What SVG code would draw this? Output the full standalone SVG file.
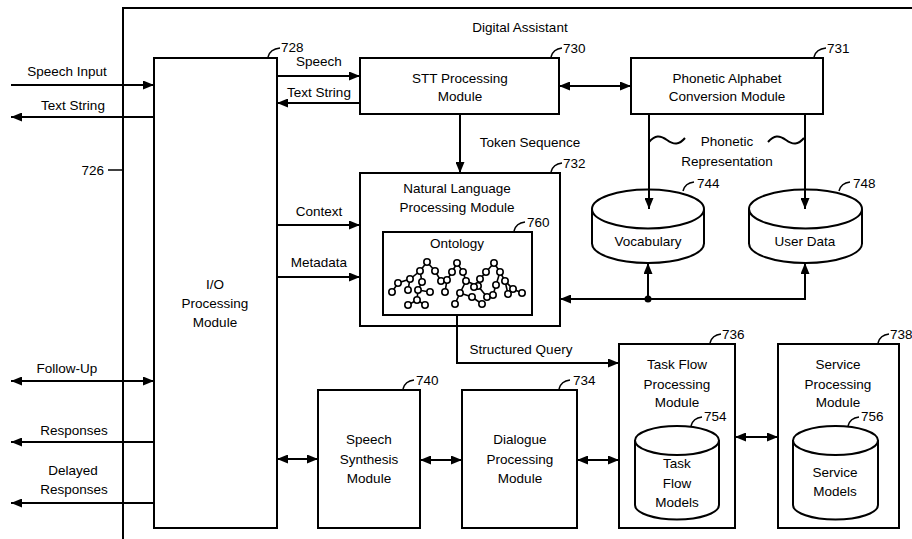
<svg xmlns="http://www.w3.org/2000/svg" width="912" height="539" viewBox="0 0 912 539">
<style>
text{font-family:"Liberation Sans",Arial,sans-serif;font-size:13.5px;fill:#000;text-anchor:middle}
.l{text-anchor:start}
.r{text-anchor:end}
.box{fill:#fff;stroke:#000;stroke-width:2}
.ln{fill:none;stroke:#000;stroke-width:2}
.tk{fill:none;stroke:#000;stroke-width:1.5}
.nd{fill:#fff;stroke:#000;stroke-width:1.6}
.ed{fill:none;stroke:#000;stroke-width:1.6}
</style>
<defs>
<marker id="ah" markerUnits="userSpaceOnUse" markerWidth="11" markerHeight="9" refX="11" refY="4.5" orient="auto-start-reverse"><path d="M0,0 L11,4.5 L0,9 z" fill="#000"/></marker>
<marker id="dot" markerUnits="userSpaceOnUse" markerWidth="8" markerHeight="8" refX="4" refY="4"><circle cx="4" cy="4" r="3.5" fill="#000"/></marker>
</defs>
<rect width="912" height="539" fill="#fff"/>
<g id="frame">
<path class="ln" d="M123,539 V8 H912" stroke-width="2.5"/>
<text x="520" y="32">Digital Assistant</text>
<text class="r" x="104" y="175">726</text>
<path class="tk" d="M108,170 H123"/>
</g>
<g id="io">
<rect class="box" x="154" y="58" width="123" height="470"/>
<text x="215" y="289">I/O</text>
<text x="215" y="308">Processing</text>
<text x="215" y="327">Module</text>
<path class="tk" d="M268,57 q2,-8 12,-9"/>
<text class="l" x="281" y="52">728</text>
</g>
<g id="stt">
<rect class="box" x="360" y="58" width="199" height="56"/>
<text x="460" y="83">STT Processing</text>
<text x="460" y="101">Module</text>
<path class="tk" d="M551,57 q2,-8 11,-9"/>
<text class="l" x="563" y="53">730</text>
</g>
<g id="phonetic">
<rect class="box" x="631" y="58" width="192" height="56"/>
<text x="727" y="83">Phonetic Alphabet</text>
<text x="727" y="101">Conversion Module</text>
<path class="tk" d="M814,57 q2,-8 12,-9"/>
<text class="l" x="827" y="53">731</text>
</g>
<g id="nlp">
<rect class="box" x="360" y="173" width="200" height="153"/>
<text x="457" y="193">Natural Language</text>
<text x="457" y="212">Processing Module</text>
<path class="tk" d="M551,172 q2,-8 11,-9"/>
<text class="l" x="563" y="168">732</text>
</g>
<g id="ontology">
<rect class="box" x="383" y="232" width="149" height="83"/>
<text x="457" y="248">Ontology</text>
<path class="tk" d="M514,231 q2,-8 11,-9"/>
<text class="l" x="527" y="227">760</text>
<g class="ed">
<path d="M427,262 L420,271 L410,279 L398,283 L392,292 M427,262 L435,271 L441,281 M420,271 L422,282 L418,290 L417,300 L408,305 M417,300 L425,305 M410,279 L408,290 M418,290 L430,292"/>
<path d="M457,263 L452,272 L447,280 L445,292 M457,263 L463,272 L466,281 L460,293 L455,304 M466,281 L478,286 L487,297 M460,293 L472,297 L482,304 M447,280 L441,281"/>
<path d="M494,263 L486,272 L480,279 L474,287 L478,286 M494,263 L500,272 L505,281 L513,289 L522,293 M500,272 L496,285 L493,295 M505,281 L508,294"/>
</g>
<g class="nd">
<circle cx="427" cy="262" r="3.2"/><circle cx="420" cy="271" r="3.2"/><circle cx="435" cy="271" r="3.2"/><circle cx="410" cy="279" r="3.2"/><circle cx="398" cy="283" r="3.2"/><circle cx="392" cy="292" r="3.2"/><circle cx="441" cy="281" r="3.2"/><circle cx="422" cy="282" r="3.2"/><circle cx="418" cy="290" r="3.2"/><circle cx="417" cy="300" r="3.2"/><circle cx="408" cy="305" r="3.2"/><circle cx="425" cy="305" r="3.2"/><circle cx="408" cy="290" r="3.2"/><circle cx="430" cy="292" r="3.2"/>
<circle cx="457" cy="263" r="3.2"/><circle cx="452" cy="272" r="3.2"/><circle cx="463" cy="272" r="3.2"/><circle cx="447" cy="280" r="3.2"/><circle cx="445" cy="292" r="3.2"/><circle cx="466" cy="281" r="3.2"/><circle cx="460" cy="293" r="3.2"/><circle cx="455" cy="304" r="3.2"/><circle cx="478" cy="286" r="3.2"/><circle cx="487" cy="297" r="3.2"/><circle cx="472" cy="297" r="3.2"/><circle cx="482" cy="304" r="3.2"/>
<circle cx="494" cy="263" r="3.2"/><circle cx="486" cy="272" r="3.2"/><circle cx="500" cy="272" r="3.2"/><circle cx="480" cy="279" r="3.2"/><circle cx="474" cy="287" r="3.2"/><circle cx="505" cy="281" r="3.2"/><circle cx="513" cy="289" r="3.2"/><circle cx="522" cy="293" r="3.2"/><circle cx="496" cy="285" r="3.2"/><circle cx="493" cy="295" r="3.2"/><circle cx="508" cy="294" r="3.2"/>
</g>
</g>
<g id="vocabulary">
<path class="box" d="M592,209 V243.5 A56,19.5 0 0 0 704,243.5 V209"/>
<ellipse class="box" cx="648" cy="209" rx="56" ry="19.5"/>
<text x="648" y="246">Vocabulary</text>
<path class="tk" d="M683,191 q2,-8 11,-9"/>
<text class="l" x="697" y="188">744</text>
</g>
<g id="userdata">
<path class="box" d="M749,209 V243.5 A56.5,19.5 0 0 0 862,243.5 V209"/>
<ellipse class="box" cx="805.5" cy="209" rx="56.5" ry="19.5"/>
<text x="805" y="246">User Data</text>
<path class="tk" d="M839,191 q2,-8 11,-9"/>
<text class="l" x="853" y="188">748</text>
</g>
<g id="speechsynth">
<rect class="box" x="318" y="390" width="102" height="138"/>
<text x="369" y="444">Speech</text>
<text x="369" y="464">Synthesis</text>
<text x="369" y="483">Module</text>
<path class="tk" d="M403,389 q2,-8 11,-9"/>
<text class="l" x="416" y="385">740</text>
</g>
<g id="dialogue">
<rect class="box" x="462" y="390" width="115" height="138"/>
<text x="520" y="444">Dialogue</text>
<text x="520" y="464">Processing</text>
<text x="520" y="483">Module</text>
<path class="tk" d="M559,389 q2,-8 11,-9"/>
<text class="l" x="573" y="385">734</text>
</g>
<g id="taskflow">
<rect class="box" x="619" y="344" width="116" height="184"/>
<text x="677" y="369">Task Flow</text>
<text x="677" y="389">Processing</text>
<text x="677" y="407">Module</text>
<path class="tk" d="M710,343 q2,-8 11,-9"/>
<text class="l" x="722" y="339">736</text>
<path class="box" d="M635,440 V505 A42,14.5 0 0 0 719,505 V440"/>
<ellipse class="box" cx="677" cy="440.5" rx="42" ry="14.5"/>
<text x="677" y="468">Task</text>
<text x="677" y="488">Flow</text>
<text x="677" y="507">Models</text>
<path class="tk" d="M691,426 q2,-8 11,-9"/>
<text class="l" x="704" y="421">754</text>
</g>
<g id="service">
<rect class="box" x="778" y="344" width="121" height="184"/>
<text x="838" y="369">Service</text>
<text x="838" y="389">Processing</text>
<text x="838" y="407">Module</text>
<path class="tk" d="M878,343 q2,-8 11,-9"/>
<text class="l" x="890" y="339">738</text>
<path class="box" d="M793,440 V505 A42.5,14.5 0 0 0 878,505 V440"/>
<ellipse class="box" cx="835.5" cy="440.5" rx="42.5" ry="14.5"/>
<text x="835" y="477">Service</text>
<text x="835" y="496">Models</text>
<path class="tk" d="M848,426 q2,-8 11,-9"/>
<text class="l" x="861" y="421">756</text>
</g>
<g id="connectors">
<path class="ln" d="M11,85 H154" marker-end="url(#ah)"/>
<text x="67" y="76">Speech Input</text>
<path class="ln" d="M154,117 H11" marker-end="url(#ah)"/>
<text x="73" y="110">Text String</text>
<path class="ln" d="M11,381 H154" marker-start="url(#ah)" marker-end="url(#ah)"/>
<text x="67" y="373">Follow-Up</text>
<path class="ln" d="M154,442 H11" marker-end="url(#ah)"/>
<text x="74" y="435">Responses</text>
<path class="ln" d="M154,503 H11" marker-end="url(#ah)"/>
<text x="73" y="475">Delayed</text>
<text x="74" y="494">Responses</text>
<path class="ln" d="M277,76 H360" marker-end="url(#ah)"/>
<text x="319" y="66">Speech</text>
<path class="ln" d="M360,103 H277" marker-end="url(#ah)"/>
<text x="319" y="97">Text String</text>
<path class="ln" d="M559,86 H631" marker-start="url(#ah)" marker-end="url(#ah)"/>
<path class="ln" d="M460,114 V173" marker-end="url(#ah)"/>
<text x="530" y="147">Token Sequence</text>
<path class="ln" d="M649,114 V209" marker-end="url(#ah)"/>
<path class="ln" d="M805,114 V209" marker-end="url(#ah)"/>
<path class="ln" d="M649,142 c6,-7 11,-7 18,-2 s12,5 18,-2"/>
<path class="ln" d="M768,142 c6,-7 11,-7 18,-2 s12,5 18,-2"/>
<text x="727" y="146">Phonetic</text>
<text x="727" y="166">Representation</text>
<path class="ln" d="M277,225 H360" marker-end="url(#ah)"/>
<text x="319" y="216">Context</text>
<path class="ln" d="M277,277 H360" marker-end="url(#ah)"/>
<text x="319" y="267">Metadata</text>
<path class="ln" d="M805,263 V299 H560" marker-start="url(#ah)" marker-end="url(#ah)"/>
<path class="ln" d="M648,299 V263" marker-start="url(#dot)" marker-end="url(#ah)"/>
<path class="ln" d="M457,315 V363 H619" marker-end="url(#ah)"/>
<text x="521" y="354">Structured Query</text>
<path class="ln" d="M277,459 H318" marker-start="url(#ah)" marker-end="url(#ah)"/>
<path class="ln" d="M420,460 H462" marker-start="url(#ah)" marker-end="url(#ah)"/>
<path class="ln" d="M577,460 H619" marker-start="url(#ah)" marker-end="url(#ah)"/>
<path class="ln" d="M735,437 H778" marker-start="url(#ah)" marker-end="url(#ah)"/>
</g>
</svg>
